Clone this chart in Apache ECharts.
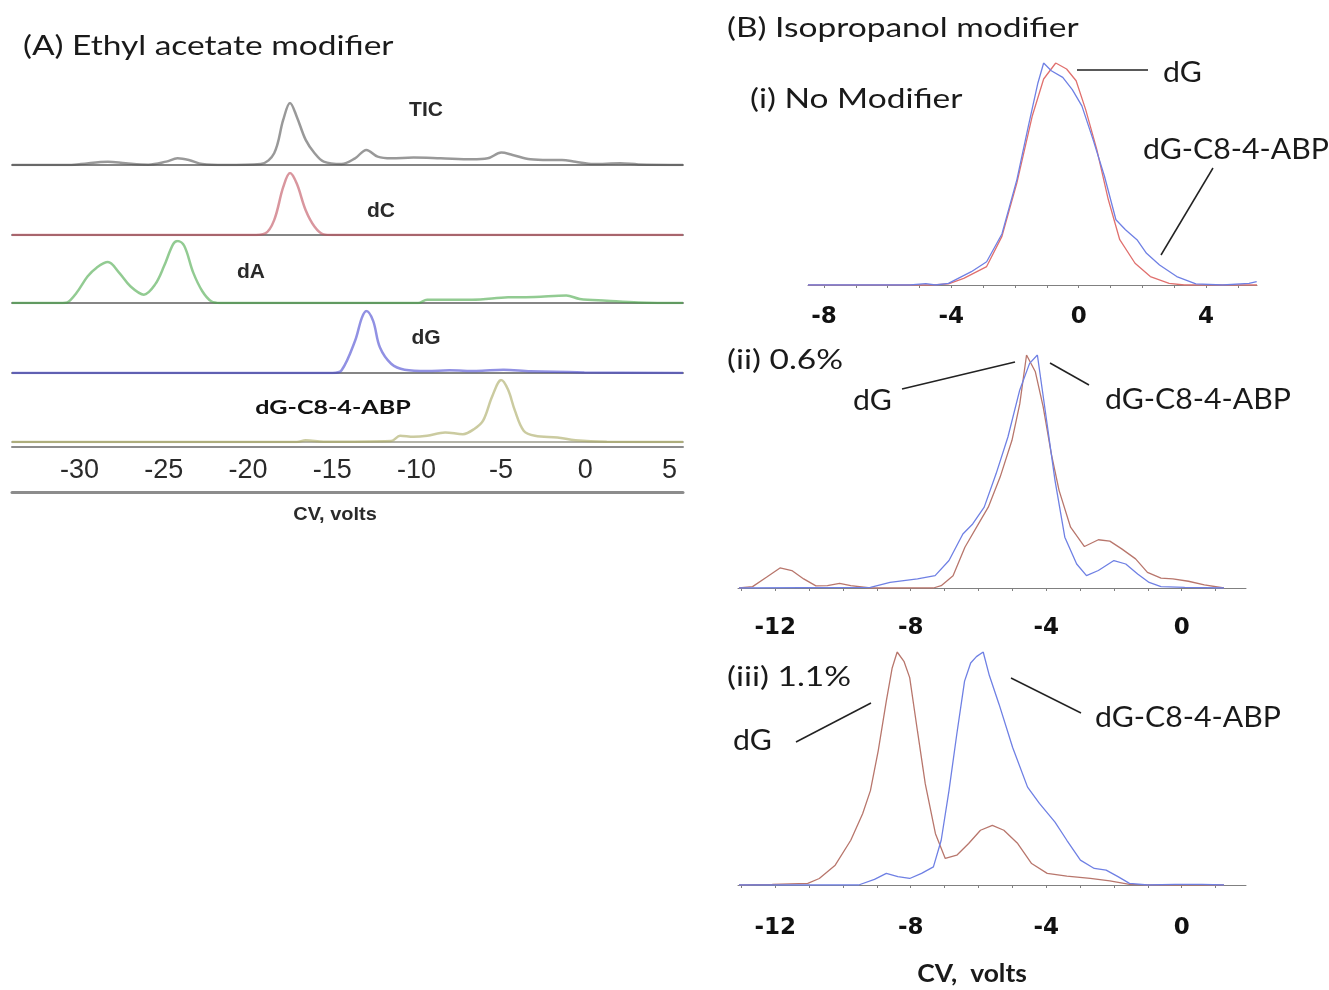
<!DOCTYPE html>
<html>
<head>
<meta charset="utf-8">
<script src="https://cdn.jsdelivr.net/npm/echarts@6/dist/echarts.min.js"></script>
<style>
html, body { margin: 0; background: #fff; }
#main { width: 1329px; height: 990px; }
</style>
</head>
<body>
<div id="main"></div>
<script>
// (A) ethyl acetate modifier - [CV volts, relative intensity %]
var ticTrace = [[-34,0],[-30.71,0],[-29.91,1.6],[-28.31,5.4],[-27.25,2.7],[-25.91,0.5],[-24.85,5.4],[-24.18,10.8],[-23.51,8.1],[-22.71,1.6],[-21.38,0],[-19.25,1.6],[-18.45,19],[-17.91,73],[-17.51,100],[-17.11,78],[-16.58,40.5],[-16.05,19],[-15.51,5.4],[-14.45,1.6],[-13.65,10.8],[-12.98,24.3],[-12.31,13.5],[-11.51,10.8],[-10.18,11.9],[-8.58,10.8],[-6.72,9.2],[-5.78,10.8],[-4.98,20],[-4.31,16.2],[-3.25,9.2],[-2.18,8.1],[-1.38,8.1],[-0.58,5.4],[0.48,1.6],[2.08,2.7],[3.15,1],[5.8,0]];
var dcTrace = [[-34,0],[-19.78,0],[-18.98,2.7],[-18.45,24],[-17.91,77.5],[-17.51,100],[-17.11,83],[-16.58,40],[-16.05,13.4],[-15.51,1],[-14.98,0],[5.8,0]];
var daTrace = [[-34,0],[-30.98,0],[-30.71,1],[-30.18,16],[-29.51,43],[-28.98,57],[-28.31,66],[-27.65,49],[-26.98,27],[-26.18,13.5],[-25.51,30],[-24.98,59.5],[-24.45,94.6],[-24.18,100],[-23.78,92],[-23.25,49],[-22.71,19],[-22.18,2.7],[-21.65,0],[-9.91,0],[-9.38,5.4],[-6.72,5.4],[-4.58,9.2],[-2.98,9.7],[-1.12,12],[-0.32,6.5],[1.28,3.8],[3.15,1],[5.8,0]];
var dgTrace = [[-34,0],[-14.98,0],[-14.45,4.3],[-13.65,52],[-13.25,89],[-12.98,100],[-12.58,84],[-12.18,41.5],[-11.51,15],[-10.71,5.3],[-9.38,3.2],[-8.05,4.3],[-6.45,3.2],[-4.85,5.3],[-3.25,2.7],[-0.05,1],[5.8,0]];
var abpTrace = [[-34,0],[-17.11,0],[-16.58,2.8],[-15.51,0.5],[-11.51,1.7],[-10.98,10],[-10.18,8.3],[-9.38,10],[-8.31,15.5],[-7.25,12.7],[-6.58,21],[-6.05,34.8],[-5.52,73.5],[-4.98,100],[-4.58,84.5],[-4.18,51.4],[-3.65,18.2],[-2.98,10],[-1.65,7.2],[-0.58,2.8],[1.28,0.5],[5.8,0]];

// (B) isopropanol modifier, red = dG, blue = dG-C8-4-ABP
var noModDG = [[-8.5,0],[-4.6,0],[-4.09,0.5],[-3.61,3],[-2.89,8.3],[-2.41,21.9],[-1.94,46],[-1.46,76],[-1.10,92.8],[-0.72,100],[-0.38,97.3],[-0.08,92],[0.22,79],[0.57,61],[0.93,38.5],[1.29,20.4],[1.77,9.8],[2.25,3.8],[2.84,0.75],[3.32,0],[5.6,0]];
var noModABP = [[-8.5,0],[-5.3,0],[-4.8,0.6],[-4.5,0],[-4.09,0.7],[-3.37,6],[-2.89,10.5],[-2.41,23],[-1.94,47.5],[-1.58,71.6],[-1.28,91],[-1.10,100],[-0.86,96.5],[-0.50,93.5],[-0.20,88],[0.10,80.7],[0.45,65.6],[0.81,49],[1.17,29.4],[1.47,24.9],[1.83,20.4],[2.13,14.3],[2.54,9],[3.08,3.8],[3.68,0.5],[4.52,0],[5.35,0.75],[5.59,1.5]];
var ipa06DG = [[-13.07,0],[-12.67,0.6],[-12.26,4.6],[-11.86,8.6],[-11.51,7.5],[-11.16,3.9],[-10.8,0.9],[-10.46,1],[-10.1,2],[-9.77,1],[-9.19,0],[-7.33,0],[-7.1,1],[-6.75,5.3],[-6.4,17.5],[-5.94,29],[-5.71,34.7],[-5.36,47.6],[-5.01,63.4],[-4.78,79],[-4.58,100],[-4.32,92.8],[-4.09,77.8],[-3.85,57.7],[-3.62,41.9],[-3.28,26.1],[-2.87,17.8],[-2.46,20.7],[-2.12,20.1],[-1.77,16.8],[-1.36,12.5],[-1.01,6.7],[-0.61,4.2],[-0.26,3.9],[0.2,2.9],[0.67,1.3],[1.25,0]];
var ipa06ABP = [[-13.07,0],[-9.19,0.3],[-8.61,2.4],[-7.8,3.9],[-7.28,5.3],[-6.87,11.8],[-6.46,23.2],[-6.17,27.5],[-5.83,34.7],[-5.48,49],[-5.13,64.8],[-4.78,85],[-4.49,96.4],[-4.26,100],[-4.03,76.3],[-3.74,46.2],[-3.45,21.8],[-3.10,10.3],[-2.81,5.3],[-2.46,7.5],[-2.0,11.8],[-1.65,10.3],[-1.30,6],[-0.96,2.4],[-0.61,0.6],[0.09,0.3],[1.25,0]];
var ipa11DG = [[-13.07,0],[-12.09,0.3],[-11.04,0.7],[-10.7,2.8],[-10.23,8.5],[-9.77,19.2],[-9.42,30.6],[-9.19,40.5],[-8.96,57.6],[-8.72,79],[-8.55,93],[-8.40,100],[-8.2,96],[-8.03,89],[-7.8,66],[-7.57,43.4],[-7.27,22],[-6.98,11.4],[-6.64,12.8],[-6.29,17.8],[-5.94,23.5],[-5.59,25.6],[-5.25,23.5],[-4.84,17.8],[-4.43,9.2],[-3.97,5],[-3.39,3.8],[-2.70,2.8],[-2.12,1.8],[-1.54,0.3],[-1.0,0],[1.25,0]];
var ipa11ABP = [[-13.07,0],[-9.54,0],[-9.07,2.4],[-8.72,5],[-8.38,3.6],[-8.03,2.8],[-7.68,5],[-7.33,7.8],[-7.1,19.2],[-6.87,40.5],[-6.64,64.7],[-6.41,87.5],[-6.23,95.3],[-6.06,98],[-5.86,100],[-5.68,90],[-5.39,77.5],[-4.99,59],[-4.55,42],[-4.2,35],[-3.74,27],[-3.39,19.2],[-2.99,10.7],[-2.58,7.1],[-2.23,6.4],[-1.88,3.6],[-1.54,0.7],[-1.0,0],[-0.2,0.3],[0.6,0.3],[1.25,0]];

var cvLabelsA = [-30, -25, -20, -15, -10, -5, 0, 5];
var cvLabelsB1 = [-8, -4, 0, 4];
var cvLabelsB2 = [-12, -8, -4, 0];
var cvTicksB1 = [-8, -7, -6, -5, -4, -3, -2, -1, 0, 1, 2, 3, 4, 5];
var cvTicksB2 = [-13, -12, -11, -10, -9, -8, -7, -6, -5, -4, -3, -2, -1, 0, 1];

var chart = echarts.init(document.getElementById('main'));
var grids = [], xAxes = [], yAxes = [], series = [];

// traces are drawn half transparent over the grey baseline, like the scanned figure
var rowsA = [
    { data: ticTrace, color: '#555555', top: 103 },
    { data: dcTrace, color: '#c0505e', top: 173 },
    { data: daTrace, color: '#4aa84a', top: 241 },
    { data: dgTrace, color: '#4848d0', top: 311 },
    { data: abpTrace, color: '#a8a860', top: 380 }
];

function ruleAxis(gi, offset, color, width) {
    return {
        type: 'value', gridIndex: gi, min: -34, max: 5.8, position: 'bottom', offset: offset,
        axisLine: { lineStyle: { color: color, width: width } },
        axisTick: { show: false }, axisLabel: { show: false }, splitLine: { show: false }
    };
}

rowsA.forEach(function(r, i) {
    var last = i == rowsA.length - 1;
    grids.push({ left: 12, width: 671, top: r.top, height: 62 });
    xAxes.push({
        type: 'value', gridIndex: i, min: -34, max: 5.8,
        axisLine: { lineStyle: { color: last ? '#b4b4a8' : '#858585', width: 2 } },
        axisTick: { show: false },
        splitLine: { show: false },
        axisLabel: {
            show: last, customValues: cvLabelsA, margin: 15,
            fontFamily: 'Liberation Sans', fontSize: 27, color: '#2a2a2a'
        }
    });
    yAxes.push({ type: 'value', gridIndex: i, min: 0, max: 100, show: false });
    series.push({
        type: 'line', xAxisIndex: i, yAxisIndex: i, data: r.data,
        smooth: 0.35, showSymbol: false, z: 3,
        lineStyle: { color: r.color, width: 2.5, opacity: 0.6 }
    });
});
// double rule under the last trace and the rule under the tick labels
xAxes.push(ruleAxis(4, 5, '#8c8c8c', 2));
xAxes.push(ruleAxis(4, 50, '#8c8c8c', 3));

var panelsB = [
    { left: 808, width: 449, top: 63, height: 222, min: -8.5, max: 5.6, labels: cvLabelsB1, ticks: cvTicksB1, margin: 21, dg: noModDG, abp: noModABP },
    { left: 738, width: 508, top: 355, height: 233, min: -13.1, max: 1.9, labels: cvLabelsB2, ticks: cvTicksB2, margin: 29, dg: ipa06DG, abp: ipa06ABP },
    { left: 738, width: 508, top: 652, height: 233, min: -13.1, max: 1.9, labels: cvLabelsB2, ticks: cvTicksB2, margin: 32, dg: ipa11DG, abp: ipa11ABP }
];

panelsB.forEach(function(p, k) {
    var gi = grids.length;
    grids.push({ left: p.left, width: p.width, top: p.top, height: p.height });
    xAxes.push({
        type: 'value', gridIndex: gi, min: p.min, max: p.max,
        axisLine: { lineStyle: { color: '#808080', width: 1 } },
        axisTick: { customValues: p.ticks, length: 3, lineStyle: { color: '#808080' } },
        splitLine: { show: false },
        axisLabel: {
            customValues: p.labels, margin: p.margin,
            fontFamily: 'DejaVu Sans', fontWeight: 'bold', fontSize: 23, color: '#111'
        }
    });
    yAxes.push({ type: 'value', gridIndex: gi, min: 0, max: 100, show: false });
    var xi = xAxes.length - 1;
    series.push({
        type: 'line', xAxisIndex: xi, yAxisIndex: gi, data: p.dg,
        showSymbol: false, lineStyle: { color: k == 0 ? '#e0706e' : '#b8766c', width: 1.3 }
    });
    series.push({
        type: 'line', xAxisIndex: xi, yAxisIndex: gi, data: p.abp,
        showSymbol: false, lineStyle: { color: '#6f80e4', width: 1.3 }
    });
});

// the scanned figure is stretched sideways, so texts get a scaleX
function txt(s, x, y, size, opt) {
    opt = opt || {};
    return {
        type: 'text', x: x, y: y, z: 10, scaleX: opt.sx || 1,
        style: {
            text: s, fill: opt.color || '#1a1a1a',
            font: (opt.bold ? 'bold ' : '') + size + 'px ' + (opt.family || 'Lato'),
            textAlign: opt.align || 'left', textVerticalAlign: 'middle'
        }
    };
}
function leader(x1, y1, x2, y2) {
    return {
        type: 'line', z: 10,
        shape: { x1: x1, y1: y1, x2: x2, y2: y2 },
        style: { stroke: '#222', lineWidth: 1.5 }
    };
}

var arialB = { bold: true, family: 'Liberation Sans', align: 'center', color: '#2a2a2a' };
var head = { sx: 1.24 };
var lab = { sx: 1.08 };
var graphics = [
    txt('(A) Ethyl acetate modifier', 23, 46, 27, head),
    txt('TIC', 426, 110, 21, arialB),
    txt('dC', 381, 211, 21, arialB),
    txt('dA', 251, 272, 21, arialB),
    txt('dG', 426, 338, 21, arialB),
    txt('dG-C8-4-ABP', 333, 408, 19, { bold: true, align: 'center', sx: 1.32, color: '#111' }),
    txt('CV, volts', 335, 515, 19, { bold: true, family: 'Liberation Sans', align: 'center', color: '#2a2a2a', sx: 1.05 }),

    txt('(B) Isopropanol modifier', 727, 28, 27, head),
    txt('(i) No Modifier', 750, 99, 27, head),
    txt('dG', 1163, 73, 28, lab),
    txt('dG-C8-4-ABP', 1143, 150, 28, lab),
    leader(1077, 70, 1148, 70),
    leader(1213, 168, 1161, 255),

    txt('(ii) 0.6%', 727, 360, 27, head),
    txt('dG', 853, 401, 28, lab),
    txt('dG-C8-4-ABP', 1105, 400, 28, lab),
    leader(902, 389, 1015, 362),
    leader(1050, 363, 1089, 385),

    txt('(iii) 1.1%', 727, 677, 27, head),
    txt('dG', 733, 741, 28, lab),
    txt('dG-C8-4-ABP', 1095, 718, 28, lab),
    leader(796, 742, 871, 703),
    leader(1011, 678, 1081, 713),

    txt('CV,  volts', 972, 974, 24, { bold: true, align: 'center', sx: 1.1 })
];

chart.setOption({
    animation: false,
    backgroundColor: '#fff',
    grid: grids,
    xAxis: xAxes,
    yAxis: yAxes,
    series: series,
    graphic: graphics
});
</script>
</body>
</html>
